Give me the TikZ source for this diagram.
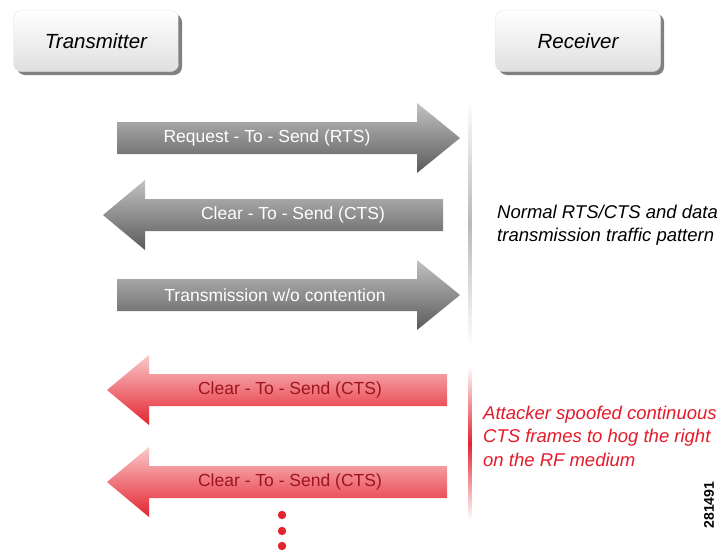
\documentclass[tikz,border=0pt]{standalone}
\usepackage{fontspec}
\setmainfont{Liberation Sans}
\usepackage{tikz}
\usetikzlibrary{shadows,positioning}
\definecolor{grtop}{HTML}{C2C2C2}
\definecolor{grbot}{HTML}{5A5A5A}
\definecolor{rdtop}{HTML}{FBC8CA}
\definecolor{rdbot}{HTML}{E3242F}
\definecolor{rdtext}{HTML}{9E1420}
\definecolor{rdnote}{HTML}{E31B2B}
% right / left pointing block arrows: #1 style, #2 tail x, #3 tip x, #4 centre y
\newcommand{\rarrow}[4]{
\shade[#1] (#2,#4-16) -- (#3-43,#4-16) -- (#3-43,#4-35) -- (#3,#4)
  -- (#3-43,#4+35) -- (#3-43,#4+16) -- (#2,#4+16) -- cycle;
}
\newcommand{\larrow}[4]{
\shade[#1] (#2,#4-16) -- (#3+42,#4-16) -- (#3+42,#4-35) -- (#3,#4)
  -- (#3+42,#4+35) -- (#3+42,#4+16) -- (#2,#4+16) -- cycle;
}

\begin{document}
\begin{tikzpicture}[x=1pt,y=-1pt,
                    hdr/.style={rounded corners=8pt, minimum width=165pt, minimum height=61pt,
                                top color=white, bottom color=gray!25, draw=gray!20,
                                drop shadow={shadow xshift=3.5pt, shadow yshift=-3.5pt, fill=gray!60!black, opacity=0.7},
                                font=\fontsize{20.5}{24}\selectfont\itshape},
                    grayarr/.style={top color=grtop, bottom color=grbot},
                    redarr/.style={top color=rdtop, bottom color=rdbot},
                    grtxt/.style={text=white, font=\fontsize{17.5}{20}\selectfont},
                    rdtxt/.style={text=rdtext, font=\fontsize{17.5}{20}\selectfont},
                    note/.style={align=left, anchor=west, inner sep=0pt,
                                 font=\fontsize{18.5}{23.5}\selectfont\itshape},
                   ]

\useasboundingbox[fill=white] (0,0) rectangle (722,552);

\node[hdr] (tx) at (96,41) {Transmitter};
\node[hdr] (rx) at (578,41) {Receiver};

% timelines
\shade[top color=white, bottom color=white, middle color=gray!55] (468.5,98) rectangle (471.5,348);
\shade[top color=white, bottom color=white, middle color=rdbot] (468.5,366) rectangle (471.5,520);

% normal exchange
\rarrow{grayarr}{117}{460}{138}
\node[grtxt] (rts) at (267,138) {Request - To - Send (RTS)};

\larrow{grayarr}{443}{103}{215}
\node[grtxt] (cts) at (293,215) {Clear - To - Send (CTS)};

\rarrow{grayarr}{117}{460}{295}
\node[grtxt] (data) at (275,295) {Transmission w/o contention};

\node[note] (normal) at (497,225) {Normal RTS/CTS and data\\transmission traffic pattern};

% spoofed frames
\larrow{redarr}{447}{107}{390}
\node[rdtxt] (spoofa) at (290,390) {Clear - To - Send (CTS)};

\larrow{redarr}{447}{107}{482}
\node[rdtxt] (spoofb) at (290,482) {Clear - To - Send (CTS)};

\foreach \y in {515,531,546}
  \fill[rdbot] (282,\y) circle (4.2);

\node[note, text=rdnote] (attack) at (483,436) {Attacker spoofed continuous\\CTS frames to hog the right\\on the RF medium};

\node[rotate=90, font=\fontsize{14}{16}\selectfont\bfseries] (fig) at (709,505) {281491};

\end{tikzpicture}
\end{document}
